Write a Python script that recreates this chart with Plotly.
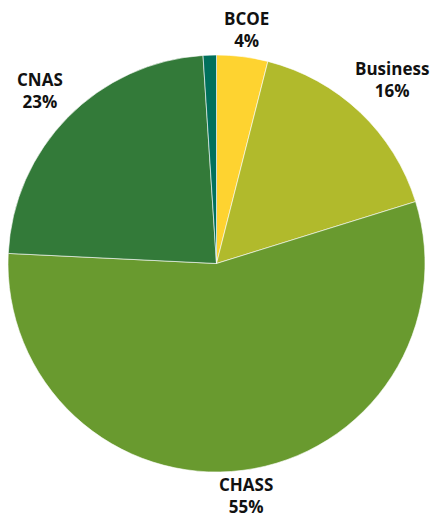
import plotly.graph_objects as go

# Data
categories = ["BCOE", "Business", "CHASS", "CNAS", "Other"]
values = [3.96, 16.24, 55.57, 23.2, 1.03]
pct_labels = ["4%", "16%", "55%", "23%", ""]
colors = ["#FED330", "#B1BA2C", "#699A2F", "#337A39", "#00705C"]

W, H = 435, 516
cx, cy, r = 216.5, 263.5, 208.5

fig = go.Figure(go.Pie(
    labels=categories,
    values=values,
    sort=False,
    direction="clockwise",
    rotation=0,
    marker=dict(colors=colors, line=dict(color="white", width=0.6)),
    textinfo="none",
    hoverinfo="label+percent",
    domain=dict(x=[(cx - r) / W, (cx + r) / W], y=[(H - cy - r) / H, (H - cy + r) / H]),
    showlegend=False,
))

# label centre positions (pixels) for each labelled category
label_pos = {"BCOE": (246, 30), "Business": (392, 79), "CHASS": (246, 495), "CNAS": (40, 91)}
annotations = []
for name, pct in zip(categories, pct_labels):
    if name not in label_pos:
        continue
    x, y = label_pos[name]
    annotations.append(dict(
        x=x / W, y=1 - y / H, xref="paper", yref="paper",
        text="<b>" + name + "<br>" + pct + "</b>", showarrow=False,
        xanchor="center", yanchor="middle", align="center",
        font=dict(family="Open Sans", size=17, color="#111111"),
    ))

fig.update_layout(
    width=W, height=H,
    margin=dict(l=0, r=0, t=0, b=0),
    paper_bgcolor="white", plot_bgcolor="white",
    annotations=annotations,
)
fig.write_html("out.html", config={"displayModeBar": False},
               post_script="document.body.style.margin='0';document.body.style.padding='0';")
